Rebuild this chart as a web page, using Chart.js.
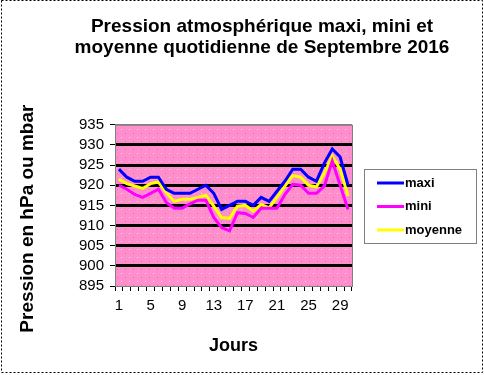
<!DOCTYPE html>
<html>
<head>
<meta charset="utf-8">
<script src="https://cdn.jsdelivr.net/npm/chart.js@4/dist/chart.umd.min.js"></script>
<style>
  html, body { margin: 0; padding: 0; background: #fff; }
  #wrap { width: 484px; height: 375px; }
</style>
</head>
<body>
<div id="wrap"><canvas id="myChart" width="484" height="375"></canvas></div>
<script>
// data
const jours = ['1','2','3','4','5','6','7','8','9','10','11','12','13','14','15',
               '16','17','18','19','20','21','22','23','24','25','26','27','28','29','30'];
const maxi = [924, 922, 921, 921, 922, 922, 919, 918, 918, 918, 919, 920, 918, 914, 915,
              916, 916, 915, 917, 916, 918.5, 921, 924, 924, 922, 921, 925.5, 929, 927, 920];
const mini = [920, 919, 917.7, 917, 918, 919, 915.7, 914.3, 914.3, 915.4, 916.3, 916.3, 912, 909.5, 908.7,
              913.2, 913, 912, 914.3, 914.3, 914.3, 917.7, 920.2, 920, 918, 918, 919.8, 926, 920, 914];
const moyenne = [921.5, 920.4, 919.8, 919.2, 920.4, 920.8, 918.1, 916, 916.5, 916.5, 917, 917.5, 914.8, 912, 911.8,
                 914.8, 915, 913.6, 915.2, 914.4, 917, 919.8, 922.4, 922, 920, 919.6, 923, 927.2, 924, 917.3];
const seriesNames = ['maxi', 'mini', 'moyenne'];
const seriesColors = ['#0000ff', '#ff00ff', '#ffff00'];
const yMin = 895, yMax = 935, yStep = 5;

// pink dotted fill like the excel plot area
function makePattern() {
  const c = document.createElement('canvas');
  c.width = 8; c.height = 8;
  const g = c.getContext('2d');
  g.fillStyle = '#ff8fcc';
  g.fillRect(0, 0, 8, 8);
  g.fillStyle = '#ffd0ea';
  g.fillRect(1, 1, 1, 1);
  g.fillStyle = '#e070b0';
  g.fillRect(5, 5, 1, 1);
  return g.createPattern(c, 'repeat');
}

const extras = {
  id: 'extras',
  beforeDraw(chart) {
    const { ctx, chartArea: a } = chart;
    ctx.save();
    ctx.fillStyle = makePattern();
    ctx.fillRect(a.left, a.top, a.right - a.left, a.bottom - a.top);
    ctx.restore();
  },
  afterDraw(chart) {
    const { ctx, chartArea: a } = chart;
    ctx.save();
    // plot border
    ctx.strokeStyle = '#808080';
    ctx.lineWidth = 1;
    ctx.strokeRect(a.left + 0.5, a.top + 0.5, a.right - a.left, a.bottom - a.top);
    // outer dotted frame
    ctx.setLineDash([2, 2]);
    ctx.strokeStyle = '#000';
    ctx.strokeRect(1.5, 0.5, 481, 372);
    ctx.setLineDash([]);
    // legend box
    const lx = 364, ly = 169, lw = 112, lh = 74;
    ctx.fillStyle = '#fff';
    ctx.fillRect(lx, ly, lw, lh);
    ctx.strokeStyle = '#808080';
    ctx.strokeRect(lx + 0.5, ly + 0.5, lw, lh);
    ctx.font = 'bold 13px Arial, "Liberation Sans", sans-serif';
    ctx.textBaseline = 'middle';
    seriesNames.forEach((n, i) => {
      const y = 183 + i * 23.5;
      ctx.strokeStyle = seriesColors[i];
      ctx.lineWidth = 3;
      ctx.beginPath();
      ctx.moveTo(377, y);
      ctx.lineTo(404, y);
      ctx.stroke();
      ctx.fillStyle = '#000';
      ctx.fillText(n, 405, y);
    });
    ctx.restore();
  }
};

const ctx = document.getElementById('myChart');

new Chart(ctx, {
  type: 'line',
  data: {
    labels: jours,
    datasets: [
      { label: seriesNames[0], data: maxi, borderColor: seriesColors[0], backgroundColor: seriesColors[0] },
      { label: seriesNames[1], data: mini, borderColor: seriesColors[1], backgroundColor: seriesColors[1] },
      { label: seriesNames[2], data: moyenne, borderColor: seriesColors[2], backgroundColor: seriesColors[2] }
    ]
  },
  options: {
    responsive: false,
    animation: false,
    layout: { padding: { left: 40, right: 0, top: 0, bottom: 0 } },
    elements: {
      line: { borderWidth: 3, tension: 0 },
      point: { radius: 0 }
    },
    plugins: {
      legend: { display: false },
      tooltip: { enabled: false },
      title: {
        display: true,
        text: ['Pression atmosphérique maxi, mini et', 'moyenne quotidienne de Septembre 2016'],
        color: '#000',
        font: { family: 'Arial, "Liberation Sans", sans-serif', size: 19, weight: 'bold', lineHeight: 1.1 },
        padding: { top: 16, bottom: 67 }
      }
    },
    scales: {
      x: {
        offset: true,
        grid: { display: true, drawOnChartArea: false, tickLength: 5, tickColor: '#000', tickWidth: 1, offset: true },
        border: { color: '#808080' },
        ticks: {
          autoSkip: false,
          maxRotation: 0,
          padding: 6,
          color: '#000',
          font: { family: 'Arial, "Liberation Sans", sans-serif', size: 15 },
          callback: function (v, i) { return i % 4 === 0 ? this.getLabelForValue(v) : ''; }
        },
        title: {
          display: true,
          text: 'Jours',
          color: '#000',
          font: { family: 'Arial, "Liberation Sans", sans-serif', size: 18, weight: 'bold' },
          padding: { top: 0, bottom: 18 }
        },
        afterFit(s) { s.height = 89; }
      },
      y: {
        min: yMin,
        max: yMax,
        grid: {
          color: c => (c.tick.value === yMin || c.tick.value === yMax) ? '#808080' : '#000',
          lineWidth: c => (c.tick.value === yMin || c.tick.value === yMax) ? 1 : 3,
          tickLength: 5, tickColor: '#000', tickWidth: 1
        },
        border: { color: '#808080' },
        ticks: {
          stepSize: yStep,
          autoSkip: false,
          padding: 6,
          color: '#000',
          font: { family: 'Arial, "Liberation Sans", sans-serif', size: 15 }
        },
        title: {
          display: true,
          text: 'Pression en hPa ou mbar     ',
          color: '#000',
          font: { family: 'Arial, "Liberation Sans", sans-serif', size: 19, weight: 'bold' },
          padding: { top: -24, bottom: 0 }
        },
        afterFit(s) { s.width = 75; }
      },
      yR: {
        position: 'right',
        display: true,
        grid: { display: false },
        border: { display: false },
        ticks: { display: false },
        afterFit(s) { s.width = 132; }
      }
    }
  },
  plugins: [extras]
});
</script>
</body>
</html>
